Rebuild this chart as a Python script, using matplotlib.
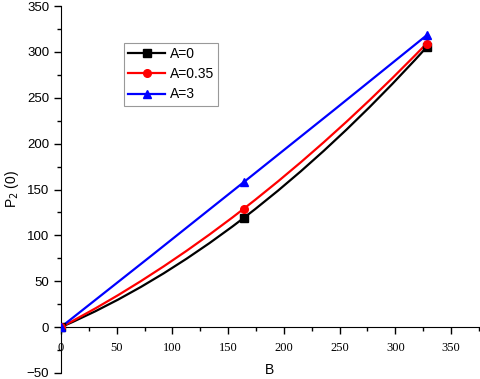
import numpy as np
import matplotlib
matplotlib.use("Agg")
import matplotlib.pyplot as plt
from matplotlib.path import Path
from matplotlib.patches import PathPatch
from matplotlib.ticker import MultipleLocator

# -----------------------------------------------------
# Data
# -----------------------------------------------------

B = [0, 164, 328]

p2_a0 = [0, 119, 305]
p2_a035 = [0, 129, 309]
p2_a3 = [0, 158, 318]

labels = ["A=0", "A=0.35", "A=3"]
colors = ["black", "red", "blue"]
markers = ["s", "o", "^"]


def spline_path(x, y):
    # smooth Bezier path through the points (Catmull-Rom style tangents)
    pts = np.column_stack([x, y]).astype(float)
    n = len(pts)
    tang = np.zeros_like(pts)
    for i in range(1, n - 1):
        tang[i] = (pts[i + 1] - pts[i - 1]) / 2
    tang[0] = 2 * (pts[1] - pts[0]) - tang[1]
    tang[-1] = 2 * (pts[-1] - pts[-2]) - tang[-2]
    verts = [pts[0]]
    codes = [Path.MOVETO]
    for i in range(n - 1):
        verts += [pts[i] + tang[i] / 3, pts[i + 1] - tang[i + 1] / 3, pts[i + 1]]
        codes += [Path.CURVE4] * 3
    return Path(verts, codes)


fig = plt.figure(figsize=(4.8, 3.79), dpi=100)
ax = fig.add_axes([0.127, 0.016, 0.873, 0.968])

series = [p2_a0, p2_a035, p2_a3]
for yv, lab, c, m in zip(series, labels, colors, markers):
    ax.add_patch(PathPatch(spline_path(B, yv), facecolor="none",
                           edgecolor=c, lw=1.6, zorder=3))
    ax.plot(B, yv, linestyle="none", marker=m, color=c, markersize=5.5, zorder=4)
    # proxy for legend
    ax.plot([], [], color=c, marker=m, lw=1.6, markersize=5.5, label=lab)

ax.set_xlim(0, 376)
ax.set_ylim(-50, 350)

ax.spines["top"].set_visible(False)
ax.spines["right"].set_visible(False)
ax.spines["bottom"].set_position(("data", 0))

ax.xaxis.set_major_locator(MultipleLocator(50))
ax.xaxis.set_minor_locator(MultipleLocator(25))
ax.yaxis.set_major_locator(MultipleLocator(50))
ax.yaxis.set_minor_locator(MultipleLocator(25))

ax.tick_params(which="major", length=5, width=1, direction="out")
ax.tick_params(which="minor", length=3, width=1, direction="out")
ax.tick_params(axis="x", pad=6)

for t in ax.get_xticklabels():
    t.set_fontfamily("Liberation Serif")
    t.set_fontsize(9)
for t in ax.get_yticklabels():
    t.set_fontfamily("Liberation Sans")
    t.set_fontsize(9.5)

ax.set_xlabel("B", fontsize=10, fontfamily="Liberation Sans")
ax.xaxis.set_label_coords(0.497, 0.008)
ax.xaxis.label.set_va("center")

ax.set_ylabel("P$_2$ (0)", fontsize=10, fontfamily="Liberation Sans")
ax.yaxis.set_label_coords(-0.117, 0.5)
ax.yaxis.label.set_va("center")

leg = ax.legend(loc="upper left", bbox_to_anchor=(0.15, 0.9),
                prop={"family": "Liberation Sans", "size": 10},
                frameon=True, fancybox=False, handlelength=2.7,
                handletextpad=0.3, labelspacing=0.45, borderpad=0.3,
                borderaxespad=0)
leg.get_frame().set_edgecolor("#808080")
leg.get_frame().set_linewidth(0.8)

plt.savefig("out.png", dpi=100)
plt.close()
